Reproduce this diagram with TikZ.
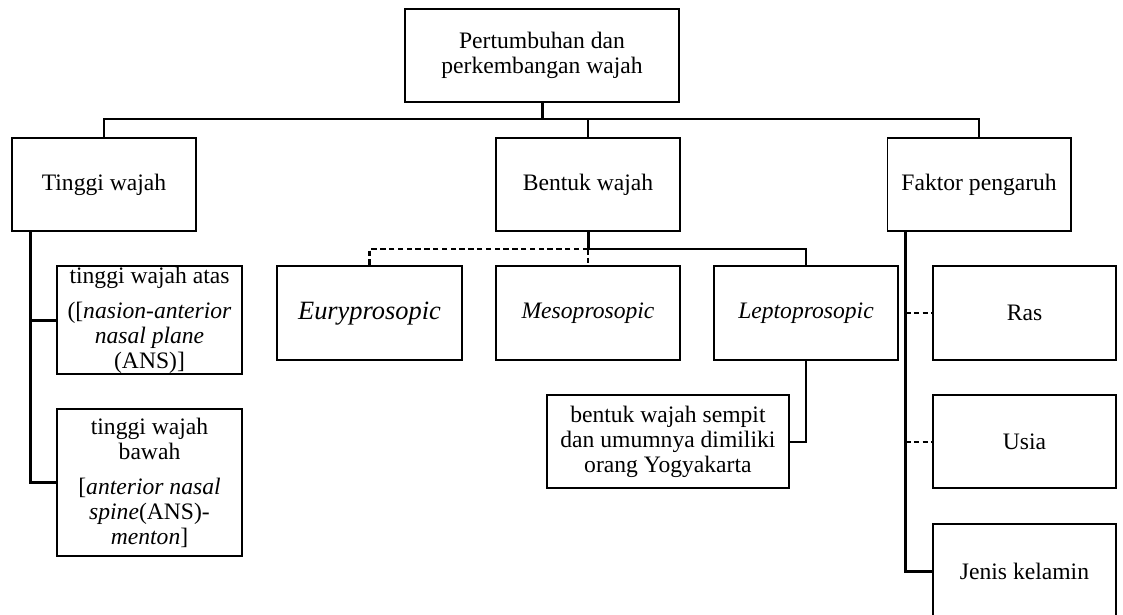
\documentclass[tikz,border=0pt]{standalone}
\usepackage{fontspec}
\setmainfont{Liberation Serif}
\begin{document}
\begin{tikzpicture}[x=1pt,y=-1pt,
  box/.style={draw, line width=1.9pt, inner sep=0pt, align=center,
    font=\fontsize{23.6}{25}\selectfont},
  conn/.style={line width=2.2pt},
  thickconn/.style={line width=3pt},
  dashconn/.style={line width=2.4pt, dash pattern=on 5.5pt off 3.3pt}]
\useasboundingbox (0,0) rectangle (1123,614);
\clip (0,0) rectangle (1123,614);
% level 0
\node[box, minimum width=274pt, minimum height=92.7pt] (top) at (542,55.4)
  {Pertumbuhan dan\\perkembangan wajah};
% level 1
\node[box, minimum width=184pt, minimum height=93.3pt] (tw) at (104,184.4) {Tinggi wajah};
\node[box, minimum width=184pt, minimum height=93.3pt] (bw) at (588,184.4) {Bentuk wajah};
\node[box, minimum width=183.2pt, minimum height=93.3pt] (fp) at (979.1,184.4) {Faktor pengaruh};
% Tinggi wajah children
\node[box, minimum width=185pt, minimum height=108.6pt] (twa) at (149.5,320)
  {tinggi wajah atas\\[10pt]([\textit{nasion-anterior}\\\textit{nasal plane}\\(ANS)]};
\node[box, minimum width=185pt, minimum height=146.7pt] (twb) at (149.5,482.4)
  {tinggi wajah\\bawah\\[10pt][\textit{anterior nasal}\\\textit{spine}(ANS)-\\\textit{menton}]};
% Bentuk wajah children
\node[box, minimum width=185pt, minimum height=94.3pt, font=\fontsize{26.4}{28}\selectfont\itshape] (ep) at (369.5,313.2) {Euryprosopic};
\node[box, minimum width=184pt, minimum height=94.3pt, font=\fontsize{23.6}{25}\selectfont\itshape] (mp) at (588,313.2) {Mesoprosopic};
\node[box, minimum width=184pt, minimum height=94.3pt, font=\fontsize{23.6}{25}\selectfont\itshape] (lp) at (806,313.2) {Leptoprosopic};
\node[box, minimum width=241.3pt, minimum height=93.3pt] (bs) at (667.9,441.7)
  {bentuk wajah sempit\\dan umumnya dimiliki\\orang Yogyakarta};
% Faktor pengaruh children
\node[box, minimum width=183pt, minimum height=94.3pt] (ras) at (1024.5,313.2) {Ras};
\node[box, minimum width=183pt, minimum height=93.3pt] (usia) at (1024.5,441.7) {Usia};
\node[box, minimum width=183pt, minimum height=93.3pt] (jk) at (1024.5,571) {Jenis kelamin};
% main bus
\coordinate (bus) at (0,119);
\draw[thickconn] (top.south) -- (top.south |- bus);
\draw[conn] (tw.north) -- (tw.north |- bus) -| (fp.north);
\draw[conn] (bw.north) -- (bw.north |- bus);
% Tinggi wajah
\coordinate (tv) at ([xshift=19.4pt]tw.south west);
\draw[thickconn] (tv) |- (twa.west);
\draw[thickconn] (tv) |- (twb.west);
% Bentuk wajah
\coordinate (sbus) at (0,249);
\draw[thickconn] (bw.south) -- (bw.south |- sbus);
\draw[conn] (bw.south |- sbus) -| (lp.north);
\draw[dashconn] (bw.south |- sbus) -| (ep.north);
\draw[dashconn] (bw.south |- sbus) -- (mp.north);
\draw[conn] (lp.south) |- (bs.east);
% Faktor pengaruh
\coordinate (fv) at ([xshift=18.5pt]fp.south west);
\draw[thickconn] (fv) |- (jk.west);
\draw[dashconn] (ras.west -| fv) -- (ras.west);
\draw[dashconn] (usia.west -| fv) -- (usia.west);
\end{tikzpicture}
\end{document}
